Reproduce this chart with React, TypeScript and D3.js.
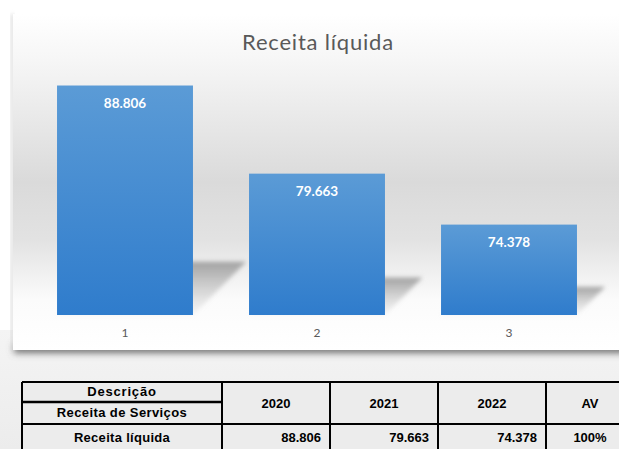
import React from "react";
import * as d3 from "d3";

const categories = ["1", "2", "3"];
const values = [88.806, 79.663, 74.378];
const valueLabels = ["88.806", "79.663", "74.378"];
const chartTitle = "Receita líquida";

const tableHeaderTop = "Descrição";
const tableHeaderSub = "Receita de Serviços";
const tableYears = ["2020", "2021", "2022", "AV"];
const tableRowLabel = "Receita líquida";
const tableRowValues = ["88.806", "79.663", "74.378"];
const tableRowAV = "100%";

const W = 619;
const H = 449;

export default function App() {
  const x = d3
    .scaleBand<string>()
    .domain(categories)
    .range([29, 605])
    .paddingInner(0.292)
    .paddingOuter(0.146);
  const y = d3.scaleLinear().domain([65, 90]).range([315, 74]);
  const base = y(65);

  const colX = [22, 222, 330, 438, 546, 632];
  const rowY = [382, 402, 424, 454];

  return (
    <svg
      width={W}
      height={H}
      style={{ position: "absolute", left: 0, top: 0, display: "block" }}
      xmlns="http://www.w3.org/2000/svg"
    >
      <defs>
        <linearGradient id="bg" x1="0" y1="0" x2="0" y2="1">
          <stop offset="0" stopColor="#ffffff" />
          <stop offset="0.14" stopColor="#f6f6f6" />
          <stop offset="0.5" stopColor="#dadada" />
          <stop offset="0.67" stopColor="#e2e2e2" />
          <stop offset="0.85" stopColor="#fbfbfb" />
          <stop offset="1" stopColor="#ffffff" />
        </linearGradient>
        <linearGradient id="bar" x1="0" y1="0" x2="0" y2="1">
          <stop offset="0" stopColor="#5b9bd6" />
          <stop offset="1" stopColor="#2f7ccc" />
        </linearGradient>
        <linearGradient id="shadow" x1="0" y1="0" x2="0" y2="1">
          <stop offset="0" stopColor="#949494" stopOpacity="0.85" />
          <stop offset="1" stopColor="#c8c8c8" stopOpacity="0.15" />
        </linearGradient>
        <linearGradient id="page" x1="0" y1="0" x2="0" y2="1">
          <stop offset="0" stopColor="#f4f4f4" />
          <stop offset="1" stopColor="#ececec" />
        </linearGradient>
        <filter id="blur2" x="-20%" y="-20%" width="140%" height="140%">
          <feGaussianBlur stdDeviation="2" />
        </filter>
        <filter id="blur4" x="-10%" y="-200%" width="120%" height="500%">
          <feGaussianBlur stdDeviation="3.5" />
        </filter>
      </defs>

      <rect x={0} y={0} width={W} height={H} fill="#ffffff" />
      <rect x={0} y={330} width={W} height={H - 330} fill="url(#page)" />

      {/* chart frame shadows */}
      <rect x={14} y={344} width={640} height={9} fill="#6e6e6e" filter="url(#blur4)" />
      <rect x={11} y={14} width={3} height={336} fill="#d8d8d8" filter="url(#blur2)" />
      <rect x={13} y={14} width={640} height={336} fill="url(#bg)" />

      <text
        x={318}
        y={50}
        textAnchor="middle"
        fontFamily="Lato, 'Open Sans', sans-serif"
        fontSize={22}
        letterSpacing={0.8}
        fill="#595959"
      >
        {chartTitle}
      </text>

      {/* bar shadows */}
      {values.map((v, i) => {
        const x0 = x(categories[i])!;
        const x1 = x0 + x.bandwidth();
        const h = base - y(v);
        const s = 0.18 * h + 12;
        const pts = [
          [x0 + s, base - s],
          [x1 + s, base - s],
          [x1, base],
          [x0, base],
        ];
        return (
          <polygon
            key={"s" + i}
            points={pts.map((p) => p.join(",")).join(" ")}
            fill="url(#shadow)"
            filter="url(#blur2)"
          />
        );
      })}

      {values.map((v, i) => (
        <rect
          key={"b" + i}
          x={x(categories[i])}
          y={y(v)}
          width={x.bandwidth()}
          height={base - y(v)}
          fill="url(#bar)"
        />
      ))}

      {values.map((v, i) => (
        <text
          key={"l" + i}
          x={x(categories[i])! + x.bandwidth() / 2}
          y={y(v) + 22}
          textAnchor="middle"
          fontFamily="Lato, 'Open Sans', sans-serif"
          fontWeight="bold"
          fontSize={13.5}
          fill="#ffffff"
        >
          {valueLabels[i]}
        </text>
      ))}

      {categories.map((c) => (
        <text
          key={"c" + c}
          x={x(c)! + x.bandwidth() / 2}
          y={337}
          textAnchor="middle"
          fontFamily="Lato, 'Open Sans', sans-serif"
          fontSize={12}
          fill="#595959"
        >
          {c}
        </text>
      ))}

      {/* table */}
      <g fontFamily="'Liberation Sans', Arial, sans-serif" fontWeight="bold" fontSize={13} fill="#000">
        <rect x={colX[0]} y={rowY[0]} width={colX[5] - colX[0]} height={rowY[3] - rowY[0]} fill="#ececec" />
        <g stroke="#000" strokeWidth={2} fill="none">
          <line x1={colX[0]} y1={rowY[0]} x2={colX[5]} y2={rowY[0]} />
          <line x1={colX[0]} y1={rowY[1]} x2={colX[1]} y2={rowY[1]} strokeWidth={2.5} />
          <line x1={colX[0]} y1={rowY[2]} x2={colX[5]} y2={rowY[2]} />
          {colX.map((cx, i) => (
            <line key={"v" + i} x1={cx} y1={rowY[0]} x2={cx} y2={rowY[3]} />
          ))}
        </g>
        <text x={(colX[0] + colX[1]) / 2} y={396} textAnchor="middle" letterSpacing={0.8}>
          {tableHeaderTop}
        </text>
        <text x={(colX[0] + colX[1]) / 2} y={417} textAnchor="middle" letterSpacing={0.4}>
          {tableHeaderSub}
        </text>
        {tableYears.map((t, i) => (
          <text key={"y" + i} x={i === 3 ? 590 : (colX[i + 1] + colX[i + 2]) / 2} y={408} textAnchor="middle">
            {t}
          </text>
        ))}
        <text x={(colX[0] + colX[1]) / 2} y={442} textAnchor="middle" letterSpacing={0.3}>
          {tableRowLabel}
        </text>
        {tableRowValues.map((t, i) => (
          <text key={"r" + i} x={colX[i + 2] - 9} y={442} textAnchor="end">
            {t}
          </text>
        ))}
        <text x={590} y={442} textAnchor="middle">
          {tableRowAV}
        </text>
      </g>
    </svg>
  );
}
